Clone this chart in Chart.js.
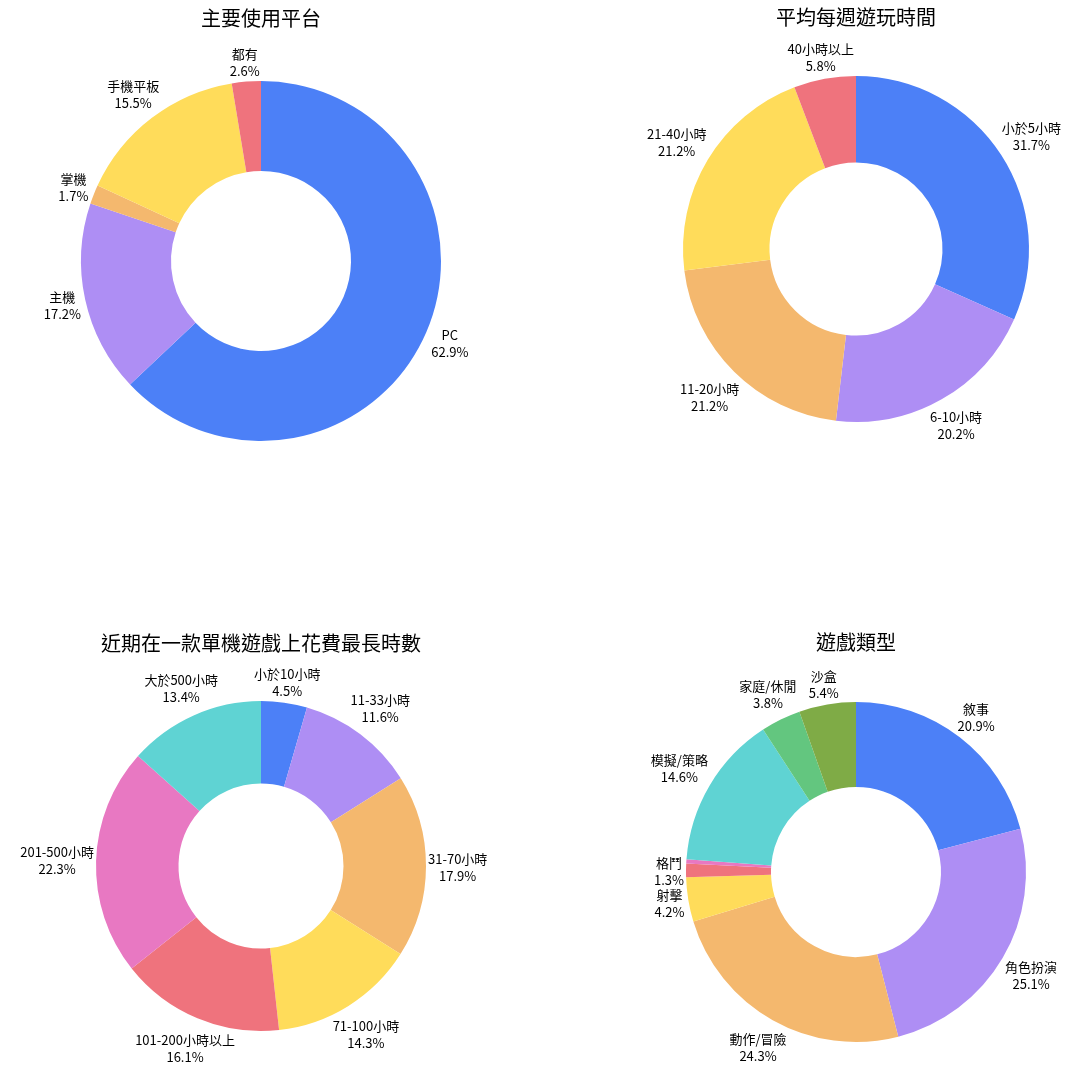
<!DOCTYPE html>
<html lang="zh-Hant">
<head>
<meta charset="UTF-8">
<title>遊戲問卷</title>
<script src="https://cdn.jsdelivr.net/npm/chart.js@4.4.1/dist/chart.umd.min.js"></script>
<style>
    body{
        margin: 0;
        background-color: white;
    }
    #wrap{
        position: relative;
        width: 1080px;
        height: 1080px;
    }
    .box{
        position: absolute;
        width: 540px;
        height: 540px;
    }
</style>
</head>
<body>
<div id="wrap">
    <div class="box" style="left:0px; top:0px;"><canvas id="c1" width="540" height="540"></canvas></div>
    <div class="box" style="left:540px; top:0px;"><canvas id="c2" width="540" height="540"></canvas></div>
    <div class="box" style="left:0px; top:540px;"><canvas id="c3" width="540" height="540"></canvas></div>
    <div class="box" style="left:540px; top:540px;"><canvas id="c4" width="540" height="540"></canvas></div>
</div>
<script>
// slice colours, used in order
const colors = ['#4c80f7', '#ae8ef4', '#f4b86e', '#ffdc5a', '#ef737d', '#e878c2', '#5fd3d3', '#63c67f', '#7fab46'];

const platformLabels = ['PC', '主機', '掌機', '手機平板', '都有'];
const platformValues = [62.9, 17.2, 1.7, 15.5, 2.6];

const weeklyLabels = ['小於5小時', '6-10小時', '11-20小時', '21-40小時', '40小時以上'];
const weeklyValues = [31.7, 20.2, 21.2, 21.2, 5.8];

const longestLabels = ['小於10小時', '11-33小時', '31-70小時', '71-100小時', '101-200小時以上', '201-500小時', '大於500小時'];
const longestValues = [4.5, 11.6, 17.9, 14.3, 16.1, 22.3, 13.4];

const genreLabels = ['敘事', '角色扮演', '動作/冒險', '射擊', '格鬥', '其他', '模擬/策略', '家庭/休閒', '沙盒'];
const genreValues = [20.9, 25.1, 24.3, 4.2, 1.3, 0.4, 14.6, 3.8, 5.4];

Chart.defaults.font.family = '"Noto Sans CJK TC", "Noto Sans", sans-serif';
Chart.defaults.color = '#000';

const lineH = 17;

// distance from the centre to the nearest point of a w*h box centred at (x, y)
function boxDist(x, y, w, h) {
    const ex = Math.max(0, Math.abs(x) - w / 2);
    const ey = Math.max(0, Math.abs(y) - h / 2);
    return Math.sqrt(ex * ex + ey * ey);
}

// name + percent drawn just outside each slice, centred on the slice's middle ray
const outsideLabels = {
    id: 'outsideLabels',
    afterDatasetsDraw(chart) {
        const ctx = chart.ctx;
        const meta = chart.getDatasetMeta(0);
        const values = chart.data.datasets[0].data;
        ctx.save();
        ctx.font = '13px "Noto Sans CJK TC"';
        ctx.fillStyle = '#000';
        ctx.textAlign = 'center';
        ctx.textBaseline = 'middle';
        meta.data.forEach((arc, i) => {
            const v = values[i];
            if (v < 1) return;
            const p = arc.getProps(['x', 'y', 'startAngle', 'endAngle', 'outerRadius'], true);
            const mid = (p.startAngle + p.endAngle) / 2;
            const dx = Math.cos(mid);
            const dy = Math.sin(mid);
            const name = chart.data.labels[i];
            const pct = v.toFixed(1) + '%';
            const w = Math.max(ctx.measureText(name).width, ctx.measureText(pct).width);
            const h = 2 * lineH;
            const gap = p.outerRadius + 2;
            let lo = 0, hi = gap + w + h;
            for (let k = 0; k < 40; k++) {
                const t = (lo + hi) / 2;
                if (boxDist(dx * t, dy * t, w, h) < gap) lo = t; else hi = t;
            }
            const x = p.x + dx * hi;
            const y = p.y + dy * hi + 1;
            ctx.fillText(name, x, y - lineH / 2);
            ctx.fillText(pct, x, y + lineH / 2);
        });
        ctx.restore();
    }
};

function makeDonut(id, title, labels, values, o) {
    return new Chart(document.getElementById(id), {
        type: 'doughnut',
        data: {
            labels: labels,
            datasets: [{
                data: values,
                backgroundColor: colors.slice(0, values.length),
                borderWidth: 0,
                radius: o.r,
                cutout: '50%'
            }]
        },
        options: {
            responsive: false,
            animation: false,
            layout: {
                padding: { left: o.left, right: o.right, top: 0, bottom: o.bottom }
            },
            plugins: {
                legend: { display: false },
                tooltip: { enabled: false },
                title: {
                    display: true,
                    text: title,
                    color: '#000',
                    font: { size: 20, weight: 'normal' },
                    padding: { top: o.tTop, bottom: o.tBottom }
                }
            }
        },
        plugins: [outsideLabels]
    });
}

makeDonut('c1', '主要使用平台', platformLabels, platformValues,
    { r: 180, left: 61, right: 79, bottom: 79, tTop: 6, tBottom: 31 });
makeDonut('c2', '平均每週遊玩時間', weeklyLabels, weeklyValues,
    { r: 173, left: 116, right: 24, bottom: 91, tTop: 5, tBottom: 20 });
makeDonut('c3', '近期在一款單機遊戲上花費最長時數', longestLabels, longestValues,
    { r: 165, left: 61, right: 79, bottom: 14, tTop: 91, tBottom: 11 });
makeDonut('c4', '遊戲類型', genreLabels, genreValues,
    { r: 170, left: 116, right: 24, bottom: 8, tTop: 90, tBottom: 18 });
</script>
</body>
</html>
